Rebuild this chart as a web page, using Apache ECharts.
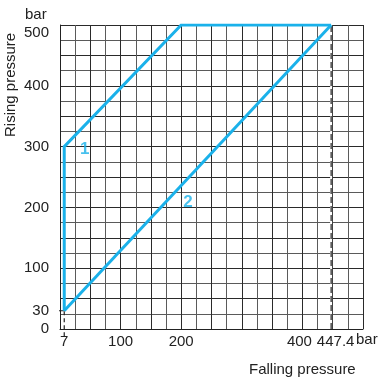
<!DOCTYPE html>
<html>
<head>
<meta charset="utf-8">
<script src="https://cdn.jsdelivr.net/npm/echarts@6/dist/echarts.min.js"></script>
<style>
  html, body { margin: 0; padding: 0; background: #fff; }
  #chart { width: 382px; height: 378px; }
</style>
</head>
<body>
<div id="chart"></div>
<script>
const xTicks = [7, 100, 200];
const xUpperTicks = [400];
const xLimitTick = [447.4];
const yTicks = [0, 30, 100, 200, 300, 400];
const yTopTick = [500];
const curve1 = [[7, 30], [7, 300], [200, 500], [447.4, 500]];
const curve2 = [[7, 30], [447.4, 500]];
const limitLine = [[447.4, 0], [447.4, 500]];
const minGuide = [[7, -12], [7, 30]];
const minLevel = [[-5, 30], [7, 30]];
const curveTags = [[41, 296, '1'], [211, 209, '2']];

const blue = '#1ab1ea';
const font = 'Liberation Sans, Arial, sans-serif';
const ink = '#222';
const fs = 15;

// grid-only axis (no labels), and label-only axes on top of it
function gridAxis() {
  return {
    type: 'value',
    min: 0,
    max: 500,
    interval: 25,
    axisLine: { show: true, lineStyle: { color: ink, width: 1 } },
    axisTick: { show: false },
    axisLabel: { show: false },
    splitLine: { show: true, lineStyle: { color: ['#2a2a2a', '#5a5a5a'], width: 1 } }
  };
}
function labelAxis(values, margin, pos, extra) {
  return {
    type: 'value',
    min: 0,
    max: 500,
    position: pos,
    axisLine: { show: false },
    axisTick: { show: false },
    splitLine: { show: false },
    axisLabel: Object.assign({
      customValues: values,
      hideOverlap: false,
      color: ink,
      fontFamily: font,
      fontSize: fs,
      margin: margin
    }, extra || {})
  };
}

const myChart = echarts.init(document.getElementById('chart'));
const option = {
  animation: false,
  grid: { left: 60, top: 25, width: 303, height: 304, containLabel: false, outerBoundsMode: 'none' },
  xAxis: [
    gridAxis(),
    labelAxis(xTicks, 5, 'bottom'),
    labelAxis(xUpperTicks, 5, 'bottom', { padding: [0, 6, 0, 0] }),
    labelAxis(xLimitTick, 5, 'bottom', { padding: [0, 0, 0, 9] })
  ],
  yAxis: [
    gridAxis(),
    labelAxis(yTicks, 11, 'left'),
    labelAxis(yTopTick, 11, 'left', { verticalAlign: 'top' })
  ],
  graphic: [
    { type: 'text', left: 25, top: 7, style: { text: 'bar', fontFamily: font, fontSize: fs, fill: ink } },
    { type: 'text', x: 3, y: 137, rotation: Math.PI / 2, style: { text: 'Rising pressure', fontFamily: font, fontSize: fs, fill: ink } },
    { type: 'text', left: 356, top: 332, style: { text: 'bar', fontFamily: font, fontSize: fs, fill: ink } },
    { type: 'text', left: 249, top: 362, style: { text: 'Falling pressure', fontFamily: font, fontSize: fs, fill: ink } }
  ],
  series: [
    {
      type: 'line',
      data: limitLine,
      symbol: 'none',
      lineStyle: { color: '#fff', width: 2 },
      z: 3
    },
    {
      type: 'line',
      data: limitLine,
      symbol: 'none',
      lineStyle: { color: ink, width: 1.2, type: [6, 3] },
      z: 4
    },
    {
      type: 'line',
      data: minGuide,
      symbol: 'none',
      clip: false,
      lineStyle: { color: ink, width: 1.2, type: [4, 3] },
      z: 4
    },
    {
      type: 'line',
      data: minLevel,
      symbol: 'none',
      clip: false,
      lineStyle: { color: ink, width: 1 },
      z: 4
    },
    {
      name: '1',
      type: 'line',
      data: curve1,
      symbol: 'none',
      lineStyle: { color: blue, width: 3, join: 'miter' },
      z: 5
    },
    {
      name: '2',
      type: 'line',
      data: curve2,
      symbol: 'none',
      lineStyle: { color: blue, width: 3 },
      z: 5
    },
    {
      type: 'scatter',
      data: curveTags,
      symbolSize: 0,
      label: {
        show: true,
        position: 'inside',
        formatter: p => p.value[2],
        color: blue,
        fontFamily: font,
        fontWeight: 'bold',
        fontSize: 17
      },
      z: 6
    }
  ]
};
myChart.setOption(option);
</script>
</body>
</html>
